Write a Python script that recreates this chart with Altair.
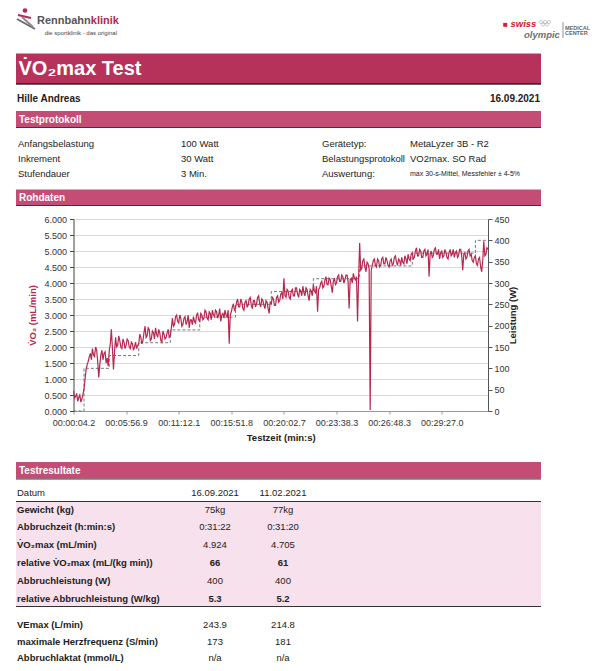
import json
import altair as alt
import pandas as pd

# ---------------- data ----------------
time_labels = ["00:00:04.2", "00:05:56.9", "00:11:12.1", "00:15:51.8",
               "00:20:02.7", "00:23:38.3", "00:26:48.3", "00:29:27.0"]
label_step = 50

vo2 = [0.62, 0.40, 0.45, 0.55, 0.30, 0.42, 0.50, 0.28, 0.38, 0.52,
       0.70, 1.00, 1.30, 1.45, 1.55, 1.70, 1.80, 1.60, 1.95, 1.75,
       1.70, 2.00, 1.90, 1.55, 1.05, 1.45, 1.75, 1.90, 1.60, 1.80,
       1.85, 1.50, 1.65, 1.40, 1.90, 2.10, 2.55, 1.95, 1.30, 1.85,
       2.30, 2.00, 2.05, 2.35, 2.20, 2.00, 1.95, 2.25, 2.15, 1.95,
       2.05, 2.25, 2.20, 2.00, 1.95, 2.15, 2.10, 1.90, 2.00, 2.15,
       1.95, 2.05, 2.10, 2.40, 2.30, 2.10, 2.20, 2.45, 2.65, 2.30,
       2.35, 2.60, 2.55, 2.20, 2.25, 2.50, 2.45, 2.25, 2.60, 2.40,
       2.30, 2.55, 2.45, 2.20, 2.15, 2.50, 2.40, 2.25, 2.30, 2.45,
       2.55, 2.30, 2.35, 2.60, 2.90, 2.65, 2.70, 2.95, 3.00, 2.80,
       2.75, 3.00, 2.90, 2.65, 2.70, 2.90, 2.95, 2.70, 2.80, 3.00,
       2.60, 2.85, 2.85, 2.70, 2.95, 2.80, 2.75, 3.00, 3.05, 2.85,
       2.80, 3.05, 3.00, 2.85, 2.90, 3.15, 3.10, 2.90, 2.85, 3.10,
       3.05, 2.85, 3.15, 3.00, 2.95, 3.15, 3.10, 2.90, 3.00, 3.20,
       2.80, 3.00, 3.05, 2.90, 3.15, 3.00, 2.95, 3.15, 2.10, 3.00,
       3.10, 3.25, 3.35, 3.15, 3.20, 3.40, 3.50, 3.25, 3.25, 3.50,
       3.40, 3.20, 3.15, 3.40, 3.45, 3.25, 3.30, 3.50, 3.55, 3.30,
       3.20, 3.45, 3.45, 3.25, 3.35, 3.55, 3.60, 3.35, 3.25, 3.50,
       3.45, 3.30, 3.20, 3.45, 3.40, 3.20, 3.05, 3.40, 3.35, 3.55,
       3.50, 3.30, 3.30, 3.55, 3.60, 3.40, 3.45, 3.65, 3.70, 3.50,
       4.15, 3.60, 3.55, 3.80, 3.75, 3.55, 3.50, 3.75, 3.80, 3.60,
       3.60, 3.85, 3.85, 3.65, 3.55, 3.80, 3.75, 3.60, 3.90, 3.70,
       3.60, 3.85, 3.80, 3.60, 3.45, 3.80, 3.75, 3.60, 3.95, 3.75,
       3.70, 3.90, 3.10, 3.80, 3.85, 4.00, 4.05, 3.85, 3.90, 4.10,
       4.20, 3.95, 3.95, 4.15, 4.10, 3.90, 3.70, 4.05, 4.15, 3.95,
       4.00, 4.20, 4.25, 4.05, 4.05, 4.25, 4.20, 4.00, 4.10, 4.25,
       4.25, 4.05, 3.20, 4.10, 4.15, 4.00, 4.30, 4.15, 4.10, 4.20,
       2.80, 4.15, 5.25, 4.40, 4.45, 4.70, 4.75, 4.50, 4.35, 4.65,
       4.60, 4.45, 0.03, 4.40, 4.55, 4.70, 4.75, 4.55, 4.50, 4.75,
       4.70, 4.50, 4.55, 4.75, 4.80, 4.60, 4.60, 4.80, 4.70, 4.55,
       4.50, 4.70, 4.75, 4.55, 4.60, 4.80, 4.85, 4.65, 4.55, 4.75,
       4.70, 4.55, 4.80, 4.65, 4.60, 4.85, 4.75, 4.60, 4.90, 4.75,
       4.70, 4.90, 4.95, 4.75, 4.80, 5.00, 5.10, 4.85, 4.85, 5.05,
       5.00, 4.80, 4.80, 5.00, 5.05, 4.85, 4.90, 5.05, 4.20, 4.90,
       5.00, 4.80, 4.85, 5.05, 5.10, 4.90, 4.90, 5.05, 4.75, 4.95,
       5.00, 4.80, 4.85, 5.05, 4.95, 4.80, 4.75, 4.95, 5.05, 4.85,
       4.90, 5.05, 4.80, 4.95, 5.00, 4.80, 4.85, 5.05, 5.05, 4.85,
       4.40, 4.90, 4.95, 4.75, 4.80, 5.00, 5.05, 4.85, 4.90, 4.70,
       4.65, 4.80, 4.85, 4.60, 4.55, 4.75, 4.80, 4.50, 4.35, 4.70,
       5.30, 4.85, 4.90, 5.10, 5.05]

power_start = [0, 10, 34, 62, 92, 120, 154, 188, 228, 272, 322, 382, 394]
power_w = [0, 100, 130, 160, 190, 220, 250, 280, 310, 340, 370, 400, 400]

protocol_labels = ["Anfangsbelastung", "Inkrement", "Stufendauer"]
protocol_values = ["100 Watt", "30 Watt", "3 Min."]
protocol_labels2 = ["Gerätetyp:", "Belastungsprotokoll", "Auswertung:"]
protocol_values2 = ["MetaLyzer 3B - R2", "VO2max. SO Rad", "max 30-s-Mittel, Messfehler ± 4-5%"]

result_dates = ["16.09.2021", "11.02.2021"]
result_labels = ["Gewicht (kg)", "Abbruchzeit (h:min:s)", "V\u0307O\u2082max (mL/min)",
                 "relative V\u0307O\u2082max (mL/(kg min))", "Abbruchleistung (W)",
                 "relative Abbruchleistung (W/kg)"]
result_col1 = ["75kg", "0:31:22", "4.924", "66", "400", "5.3"]
result_col2 = ["77kg", "0:31:20", "4.705", "61", "400", "5.2"]
result_bold = [False, False, False, True, False, True]
extra_labels = ["VEmax (L/min)", "maximale Herzfrequenz (S/min)", "Abbruchlaktat (mmol/L)"]
extra_col1 = ["243.9", "173", "n/a"]
extra_col2 = ["214.8", "181", "n/a"]

# ---------------- layout ----------------
OX, OY = 73.5, 219.0      # page position of plot-area origin
PW, PH = 414.5, 192.0
FONT = "Liberation Sans, Arial, sans-serif"
CRIMSON = "#b5284f"
BANNER = "#b7325a"
SECTION = "#c44d75"
INK = "#222222"


def txt(rows, align="left", weight="normal", style="normal", font=FONT):
    df = pd.DataFrame([{"t": t, "x": x - OX, "y": y - OY, "s": s, "c": c}
                       for (x, y, t, s, c) in rows])
    return alt.Chart(df).mark_text(align=align, baseline="middle", fontWeight=weight,
                                   fontStyle=style, font=font).encode(
        x=alt.X("x:Q", scale=None, axis=None),
        y=alt.Y("y:Q", scale=None, axis=None),
        text="t:N",
        size=alt.Size("s:Q", scale=None, legend=None),
        color=alt.Color("c:N", scale=None, legend=None),
    )


def rects(rows):
    df = pd.DataFrame([{"x": a - OX, "y": b - OY, "x2": c - OX, "y2": d - OY, "c": col}
                       for (a, b, c, d, col) in rows])
    return alt.Chart(df).mark_rect().encode(
        x=alt.X("x:Q", scale=None, axis=None), x2="x2:Q",
        y=alt.Y("y:Q", scale=None, axis=None), y2="y2:Q",
        color=alt.Color("c:N", scale=None, legend=None),
    )


def rules(rows, width=1.0):
    df = pd.DataFrame([{"x": a - OX, "y": b - OY, "x2": c - OX, "y2": d - OY, "c": col}
                       for (a, b, c, d, col) in rows])
    return alt.Chart(df).mark_rule(strokeWidth=width).encode(
        x=alt.X("x:Q", scale=None, axis=None), x2="x2:Q",
        y=alt.Y("y:Q", scale=None, axis=None), y2="y2:Q",
        color=alt.Color("c:N", scale=None, legend=None),
    )


L, R = 16, 541
page = []

# banners
page.append(rects([
    (L, 53.5, R, 83, BANNER),
    (L, 111, R, 127, SECTION),
    (L, 189.5, R, 205, SECTION),
    (L, 462, R, 478.5, SECTION),
    (L, 502, R, 606, "#f7e1ec"),
]))
page.append(rules([(L, 83.8, R, 83.8, "#3b2a30")], 1.8))
page.append(rules([(L, 127.5, R, 127.5, "#4a3038"), (L, 205.5, R, 205.5, "#4a3038"),
                   (L, 479, R, 479, "#4a3038"), (L, 501.5, R, 501.5, "#333333"),
                   (L, 606.5, R, 606.5, "#333333")], 1.2))

# logo (left)
page.append(rules([(18, 15, 31, 18, CRIMSON), (17, 19, 35, 29, "#6b6b6b"),
                   (22, 17, 33, 27, "#8a8a8a")], 2.0))
logo_dot = pd.DataFrame({"x": [25 - OX], "y": [10.5 - OY]})
page.append(alt.Chart(logo_dot).mark_circle(color=CRIMSON, opacity=1, size=22).encode(
    x=alt.X("x:Q", scale=None, axis=None), y=alt.Y("y:Q", scale=None, axis=None)))
page.append(txt([(37, 21, "Rennbahn", 11, "#555555")], align="left", weight="bold"))
page.append(txt([(90.8, 21, "klinik", 11, CRIMSON)], align="left", weight="bold"))
page.append(txt([(117, 33, "die sportklinik - das original", 6, "#444444")], align="right"))

# logo (right)
page.append(txt([(503, 25, "\u25a0", 8, "#d0202e")]))
page.append(txt([(510.5, 24, "swiss", 9.5, "#d0202e"), (524, 35, "olympic", 9.5, "#707070")],
                weight="bold", style="italic"))
rings = pd.DataFrame({"x": [541 - OX, 545 - OX, 549 - OX, 543 - OX, 547 - OX],
                      "y": [22 - OY, 22 - OY, 22 - OY, 24.5 - OY, 24.5 - OY]})
page.append(alt.Chart(rings).mark_point(color="#888888", size=10, strokeWidth=0.6).encode(
    x=alt.X("x:Q", scale=None, axis=None), y=alt.Y("y:Q", scale=None, axis=None)))
page.append(rules([(563, 22, 563, 38, "#777777")], 0.8))
page.append(txt([(565, 27.5, "MEDICAL", 5.5, "#666666"), (565, 33, "CENTER", 5.5, "#666666")],
                weight="bold"))

# title + name
page.append(txt([(18.5, 68.5, "V\u0307O\u2082max Test", 20, "#ffffff")], weight="bold"))
page.append(txt([(17, 98.5, "Hille Andreas", 10, INK)], weight="bold"))
page.append(txt([(540, 98.5, "16.09.2021", 10, INK)], align="right", weight="bold"))

# section titles
page.append(txt([(19, 119.5, "Testprotokoll", 10, "#ffffff"),
                 (19, 197.5, "Rohdaten", 10, "#ffffff"),
                 (19, 470.5, "Testresultate", 10, "#ffffff")], weight="bold"))

# protocol block
prow_y = [144, 159.3, 174.3]
prot = []
for i, y in enumerate(prow_y):
    prot.append((18, y, protocol_labels[i], 9.5, INK))
    prot.append((181, y, protocol_values[i], 9.5, INK))
    prot.append((322, y, protocol_labels2[i], 9.5, INK))
    prot.append((410, y, protocol_values2[i], 9.5 if i < 2 else 7, INK))
page.append(txt(prot))

# results table
C1, C2 = 215, 283
page.append(txt([(17, 492.7, "Datum", 9.5, INK)]))
page.append(txt([(C1, 492.7, result_dates[0], 9.5, INK), (C2, 492.7, result_dates[1], 9.5, INK)],
                align="center"))
ry = [510, 527, 544.5, 563, 581, 598.7]
page.append(txt([(17, y, result_labels[i], 9.5, INK) for i, y in enumerate(ry)], weight="bold"))
page.append(txt([(C1, y, result_col1[i], 9.5, INK) for i, y in enumerate(ry) if not result_bold[i]] +
                [(C2, y, result_col2[i], 9.5, INK) for i, y in enumerate(ry) if not result_bold[i]],
                align="center"))
page.append(txt([(C1, y, result_col1[i], 9.5, INK) for i, y in enumerate(ry) if result_bold[i]] +
                [(C2, y, result_col2[i], 9.5, INK) for i, y in enumerate(ry) if result_bold[i]],
                align="center", weight="bold"))
ey = [625, 641.7, 658.3]
page.append(txt([(17, y, extra_labels[i], 9.5, INK) for i, y in enumerate(ey)], weight="bold"))
page.append(txt([(C1, y, extra_col1[i], 9.5, INK) for i, y in enumerate(ey)] +
                [(C2, y, extra_col2[i], 9.5, INK) for i, y in enumerate(ey)], align="center"))

# ---------------- chart ----------------
n_max = len(vo2) - 1
vo2_df = pd.DataFrame({"idx": list(range(len(vo2))), "vo2": vo2})
pw_df = pd.DataFrame({"idx": power_start, "w": power_w})

x_enc = alt.X("idx:Q",
              scale=alt.Scale(domain=[0, n_max], nice=False, zero=False),
              axis=alt.Axis(values=list(range(0, label_step * len(time_labels), label_step)),
                            labelExpr=f"{json.dumps(time_labels)}[round(datum.value/{label_step})]",
                            title="Testzeit (min:s)", grid=False, tickSize=3,
                            labelPadding=4, labelFlush=False, labelOverlap=False,
                            titleFontWeight="bold", titlePadding=5, domainColor="#999999",
                            tickColor="#999999"))

power_line = alt.Chart(pw_df).mark_line(interpolate="step-after", strokeDash=[3, 2],
                                        color="#777777", strokeWidth=1).encode(
    x=x_enc,
    y=alt.Y("w:Q", scale=alt.Scale(domain=[0, 450], nice=False),
            axis=alt.Axis(orient="right", values=list(range(0, 451, 50)),
                          title="Leistung (W)", titleAngle=270, titleFontWeight="bold",
                          grid=False, tickSize=4, labelPadding=2, titlePadding=8,
                          domainColor="#555555", tickColor="#555555")),
)

vo2_line = alt.Chart(vo2_df).mark_line(color=CRIMSON, strokeWidth=1.2).encode(
    x=x_enc,
    y=alt.Y("vo2:Q", scale=alt.Scale(domain=[0, 6], nice=False),
            axis=alt.Axis(orient="left", values=[i * 0.5 for i in range(13)], format=".3f",
                          title="V\u0307O\u2082 (mL/min)", titleColor=CRIMSON,
                          titleFontWeight="bold", grid=True, gridColor="#d9d9d9",
                          tickSize=4, labelPadding=3, titlePadding=6,
                          domainColor="#444444", tickColor="#444444")),
)

inner = alt.layer(power_line, vo2_line).resolve_scale(y="independent")

chart = alt.layer(*page, inner).properties(
    width=PW, height=PH,
    autosize=alt.AutoSizeParams(type="none"),
    padding={"left": OX - 8, "top": OY - 8, "right": 596 - (OX - 8) - PW,
             "bottom": 655 - (OY - 8) - PH},
    background="#ffffff",
).configure_view(strokeWidth=0).configure_axis(
    labelFont=FONT, titleFont=FONT, labelFontSize=9, titleFontSize=9.5,
    labelColor="#333333", titleColor=INK,
)

chart.save("out.html", embed_options={"renderer": "svg", "actions": False})
